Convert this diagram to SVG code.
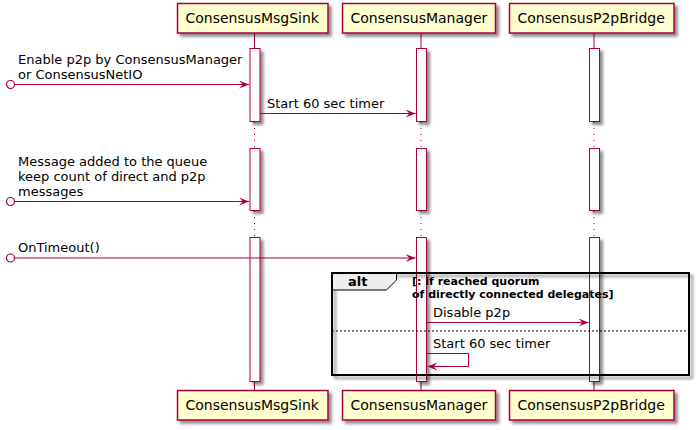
<svg xmlns="http://www.w3.org/2000/svg" width="699" height="430" viewBox="0 0 699 430">
<defs>
<filter id="sh" x="-20%" y="-20%" width="150%" height="150%">
<feGaussianBlur in="SourceAlpha" stdDeviation="1.7"/>
<feOffset dx="3" dy="3" result="b"/>
<feComponentTransfer><feFuncA type="linear" slope="0.45"/></feComponentTransfer>
<feMerge><feMergeNode/><feMergeNode in="SourceGraphic"/></feMerge>
</filter>
<marker id="ah" viewBox="0 0 10 8" refX="10" refY="4" markerWidth="10" markerHeight="8" markerUnits="userSpaceOnUse" orient="auto">
<polygon points="0,0 10,4 0,8 4,4" fill="#A80036"/>
</marker>
</defs>
<style>
.part rect{fill:#FEFECE;stroke:#A80036;stroke-width:1.5}
.part text{font-family:"DejaVu Sans",sans-serif;font-size:14px;fill:#000}
.life{stroke:#A80036;stroke-width:1}
.dot{stroke:#A80036;stroke-width:1;stroke-dasharray:1,5}
.act{fill:#FFFFFF;stroke:#A80036;stroke-width:1}
.msg{stroke:#A80036;stroke-width:1;fill:none}
.lbl{font-family:"DejaVu Sans",sans-serif;font-size:13px;fill:#000}
.guard{font-family:"DejaVu Sans",sans-serif;font-size:11px;font-weight:bold;fill:#000}
</style>
<rect width="699" height="430" fill="#FFFFFF"/>
<g id="lifelines">
<line class="life" x1="254.5" y1="33" x2="254.5" y2="48"/>
<line class="life" x1="421" y1="33" x2="421" y2="48"/>
<line class="life" x1="594" y1="33" x2="594" y2="48"/>
<line class="dot" x1="254.5" y1="122" x2="254.5" y2="148"/>
<line class="dot" x1="421" y1="122" x2="421" y2="148"/>
<line class="dot" x1="594" y1="122" x2="594" y2="148"/>
<line class="dot" x1="254.5" y1="211" x2="254.5" y2="237"/>
<line class="dot" x1="421" y1="211" x2="421" y2="237"/>
<line class="dot" x1="594" y1="211" x2="594" y2="237"/>
<line class="life" x1="254.5" y1="382" x2="254.5" y2="390"/>
<line class="life" x1="421" y1="382" x2="421" y2="390"/>
<line class="life" x1="594" y1="382" x2="594" y2="390"/>
</g>
<g id="activations" filter="url(#sh)">
<rect class="act" x="250" y="48.5" width="10" height="73"/>
<rect class="act" x="416.5" y="48.5" width="10" height="73"/>
<rect class="act" x="589.5" y="48.5" width="10" height="73"/>
<rect class="act" x="250" y="148.5" width="10" height="62"/>
<rect class="act" x="416.5" y="148.5" width="10" height="62"/>
<rect class="act" x="589.5" y="148.5" width="10" height="62"/>
<rect class="act" x="250" y="237.5" width="10" height="144"/>
<rect class="act" x="416.5" y="237.5" width="10" height="144"/>
<rect class="act" x="589.5" y="237.5" width="10" height="144"/>
</g>
<g id="p-msgsink" class="part">
<rect x="177.5" y="3.5" width="150.5" height="29.5" filter="url(#sh)"/>
<text x="185.5" y="23">ConsensusMsgSink</text>
<rect x="177.5" y="390.5" width="150.5" height="29.5" filter="url(#sh)"/>
<text x="185.5" y="410">ConsensusMsgSink</text>
</g>
<g id="p-manager" class="part">
<rect x="342.5" y="3.5" width="153" height="29.5" filter="url(#sh)"/>
<text x="350.5" y="23">ConsensusManager</text>
<rect x="342.5" y="390.5" width="153" height="29.5" filter="url(#sh)"/>
<text x="350.5" y="410">ConsensusManager</text>
</g>
<g id="p-bridge" class="part">
<rect x="509.5" y="3.5" width="164.5" height="29.5" filter="url(#sh)"/>
<text x="517.5" y="23">ConsensusP2pBridge</text>
<rect x="509.5" y="390.5" width="164.5" height="29.5" filter="url(#sh)"/>
<text x="517.5" y="410">ConsensusP2pBridge</text>
</g>
<g id="alt-frame">
<rect x="332" y="273" width="357" height="102" fill="none" stroke="#000" stroke-width="2" filter="url(#sh)"/>
<path d="M332,273 L396.5,273 L396.5,280 L386.5,290 L332,290 Z" fill="#EEEEEE" stroke="#000" stroke-width="1"/>
<rect x="332" y="273" width="357" height="102" fill="none" stroke="#000" stroke-width="2"/>
<text x="348" y="286" style="font-family:'DejaVu Sans',sans-serif;font-size:13px;font-weight:bold">alt</text>
<text class="guard" x="412" y="285">[: if reached quorum</text>
<text class="guard" x="412" y="298">of directly connected delegates]</text>
<line x1="332" y1="331" x2="689" y2="331" stroke="#000" stroke-width="1" stroke-dasharray="2,2"/>
</g>
<g id="connectors">
<circle cx="10.5" cy="84.5" r="4" fill="#FFFFFF" stroke="#A80036" stroke-width="1.2"/>
<line class="msg" x1="14.5" y1="84.5" x2="249" y2="84.5" marker-end="url(#ah)"/>
<text class="lbl" x="18" y="64">Enable p2p by ConsensusManager</text>
<text class="lbl" x="18" y="79">or ConsensusNetIO</text>
<line class="msg" x1="260" y1="113.5" x2="415.5" y2="113.5" marker-end="url(#ah)"/>
<text class="lbl" x="267" y="108">Start 60 sec timer</text>
<circle cx="10.5" cy="201.5" r="4" fill="#FFFFFF" stroke="#A80036" stroke-width="1.2"/>
<line class="msg" x1="14.5" y1="201.5" x2="249" y2="201.5" marker-end="url(#ah)"/>
<text class="lbl" x="18" y="166">Message added to the queue</text>
<text class="lbl" x="18" y="181">keep count of direct and p2p</text>
<text class="lbl" x="18" y="196">messages</text>
<circle cx="10.5" cy="258" r="4" fill="#FFFFFF" stroke="#A80036" stroke-width="1.2"/>
<line class="msg" x1="14.5" y1="258" x2="415.5" y2="258" marker-end="url(#ah)"/>
<text class="lbl" x="18" y="252">OnTimeout()</text>
<line class="msg" x1="426.5" y1="322.5" x2="588.5" y2="322.5" marker-end="url(#ah)"/>
<text class="lbl" x="433" y="317">Disable p2p</text>
<polyline class="msg" points="426.5,353.5 468.5,353.5 468.5,366.5 427.5,366.5" marker-end="url(#ah)"/>
<text class="lbl" x="433" y="348">Start 60 sec timer</text>
</g>
</svg>
